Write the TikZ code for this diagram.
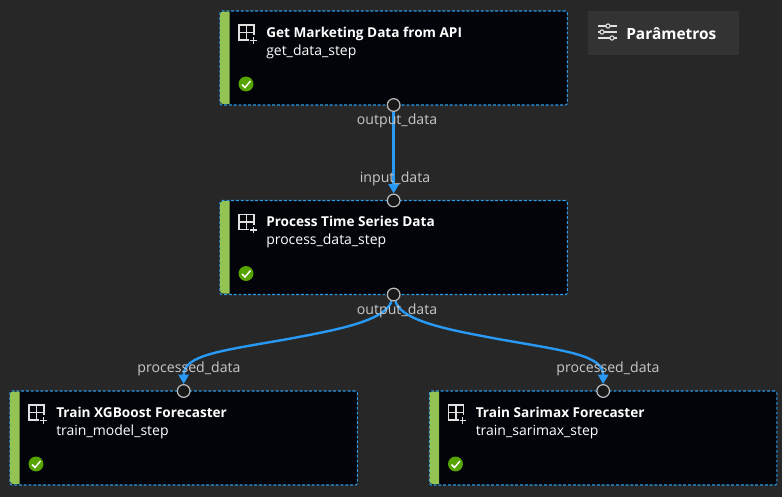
\documentclass[tikz,border=0pt]{standalone}
\usepackage{fontspec}
\setmainfont{Open Sans}
\usetikzlibrary{arrows.meta,calc}
\definecolor{pagebg}{HTML}{272727}
\definecolor{boxfill}{HTML}{02040A}
\definecolor{barcol}{HTML}{92C353}
\definecolor{dashcol}{HTML}{2E9BE8}
\definecolor{linecol}{HTML}{2899F5}
\definecolor{okcol}{HTML}{57A300}
\definecolor{labelcol}{HTML}{C8C8C8}
\definecolor{panelcol}{HTML}{333333}
\definecolor{iconcol}{HTML}{E0E0E0}
\pgfdeclarelayer{back}
\pgfdeclarelayer{conn}
\pgfsetlayers{back,conn,main}
\tikzset{
  x=0.75pt,y=-0.75pt,
  stepnode/.style={draw=dashcol,fill=boxfill,line width=0.8pt,dash pattern=on 2.2pt off 1.4pt,rounded corners=1.5pt,
    minimum width=260.5pt,minimum height=70.5pt,inner sep=0pt,outer sep=0pt,anchor=north west},
  titletext/.style={anchor=base west,inner sep=0pt,text=white,font=\fontsize{10.2pt}{12pt}\selectfont\bfseries},
  subtext/.style={anchor=base west,inner sep=0pt,text=white,font=\fontsize{10.5pt}{12pt}\selectfont},
  portnode/.style={circle,draw=iconcol!85!black,fill=black!90,line width=0.9pt,minimum size=9.5pt,inner sep=0pt},
  portlabel/.style={text=labelcol,inner sep=0pt,font=\fontsize{10.6pt}{12pt}\selectfont},
  flow/.style={draw=linecol,line width=1.8pt},
  flowtip/.style={-{Triangle[length=7pt,width=7.5pt,fill=linecol]}},
  iconline/.style={draw=iconcol,line width=0.8pt},
}
\newcommand{\stepbox}[5]{%
  \node[stepnode] (#1) at (#2,#3) {};
  \fill[barcol] (#2+9.5,#3+0.5) -- (#2+3,#3+0.5) arc[start angle=90,end angle=180,radius=2.25pt] -- (#2,#3+90) arc[start angle=180,end angle=270,radius=2.25pt] -- (#2+9.5,#3+93) -- cycle;
  \draw[iconline] (#2+19,#3+14) rectangle (#2+34,#3+29);
  \draw[iconline] (#2+26.5,#3+14) -- (#2+26.5,#3+29) (#2+19,#3+21.5) -- (#2+34,#3+21.5);
  \fill[boxfill] (#2+29,#3+24) rectangle (#2+36,#3+31);
  \draw[iconline] (#2+30,#3+29.5) -- (#2+36.5,#3+29.5) (#2+33.2,#3+26.2) -- (#2+33.2,#3+32.8);
  \fill[okcol] (#2+26,#3+73) circle[radius=5.6pt];
  \draw[white,line width=1.1pt] (#2+22,#3+73.5) -- (#2+25,#3+76.5) -- (#2+30.5,#3+70);
  \node[titletext] (#1t) at (#2+46,#3+26) {#4};
  \node[subtext] (#1s) at (#2+46,#3+44) {#5};
}
\begin{document}
\begin{tikzpicture}
\useasboundingbox (0,0) rectangle (782,497);
\begin{pgfonlayer}{back}
\fill[pagebg] (0,0) rectangle (782,497);
\end{pgfonlayer}
\stepbox{a}{220}{11}{Get Marketing Data from API}{get\_data\_step}
\stepbox{b}{220}{200.5}{Process Time Series Data}{process\_data\_step}
\stepbox{c}{10}{391}{Train XGBoost Forecaster}{train\_model\_step}
\stepbox{d}{429.5}{391}{Train Sarimax Forecaster}{train\_sarimax\_step}
\node[portnode] (pa) at (a.south) {};
\node[portnode] (pb) at (b.north) {};
\node[portnode] (pbo) at (b.south) {};
\node[portnode] (pc) at (c.north) {};
\node[portnode] (pd) at (d.north) {};
\node[portlabel] (la) at (397,120.5) {output\_data};
\node[portlabel] (lb) at (395,178.5) {input\_data};
\node[portlabel] (lbo) at (397,310.5) {output\_data};
\node[portlabel] (lc) at (189,368.5) {processed\_data};
\node[portlabel] (ld) at (608,368.5) {processed\_data};
\begin{pgfonlayer}{conn}
\draw[flow,flowtip] (pa) -- (pb);
\draw[flow,flowtip] (pbo) .. controls (385,322) and (330,331) .. (288,339) .. controls (220,351) and (pc.north |- 0,355) .. (pc.north);
\draw[flow,flowtip] (pbo) .. controls (401,322) and (456,331) .. (498,339) .. controls (566,351) and (pd.north |- 0,355) .. (pd.north);
\end{pgfonlayer}
\fill[panelcol] (588,11) rectangle (739,55);
\draw[iconline] (598,26) -- (617,26) (598,32) -- (617,32) (598,38) -- (617,38);
\filldraw[iconline,fill=panelcol] (608,26) circle[radius=1.6pt] (602,32) circle[radius=1.6pt] (612,38) circle[radius=1.6pt];
\node[anchor=base west,inner sep=0pt,text=white,font=\fontsize{11.6pt}{14pt}\selectfont\bfseries] (par) at (626,39) {Parâmetros};
\end{tikzpicture}
\end{document}
